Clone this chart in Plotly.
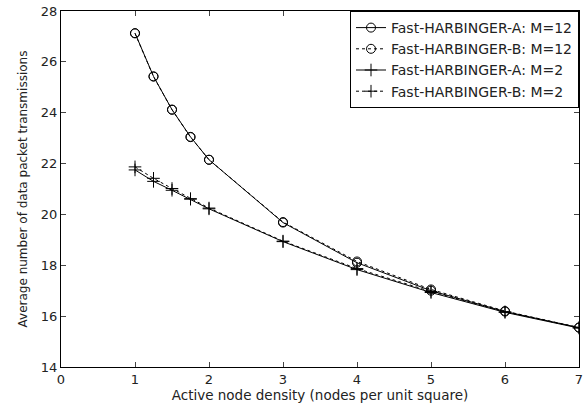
import plotly.graph_objects as go

density = [1, 1.25, 1.5, 1.75, 2, 3, 4, 5, 6, 7]
a_m12 = [27.13, 25.43, 24.12, 23.05, 22.15, 19.68, 18.1, 17.0, 16.18, 15.55]
b_m12 = [27.12, 25.42, 24.12, 23.04, 22.15, 19.7, 18.15, 17.05, 16.2, 15.55]
a_m2 = [21.75, 21.3, 20.95, 20.6, 20.22, 18.93, 17.83, 16.93, 16.15, 15.53]
b_m2 = [21.87, 21.42, 21.02, 20.62, 20.25, 18.95, 17.87, 16.97, 16.17, 15.55]

names = ["Fast-HARBINGER-A: M=12", "Fast-HARBINGER-B: M=12",
         "Fast-HARBINGER-A: M=2", "Fast-HARBINGER-B: M=2"]
series = [a_m12, b_m12, a_m2, b_m2]
symbols = ["circle-open", "circle-open", "cross-thin-open", "cross-thin-open"]
dashes = ["solid", "dot", "solid", "dot"]

fig = go.Figure()
for n, s, sym, d in zip(names, series, symbols, dashes):
    fig.add_trace(go.Scatter(
        x=density, y=s, name=n, mode="lines+markers",
        line=dict(color="black", width=1, dash=d),
        marker=dict(symbol=sym, size=9, color="black",
                    line=dict(color="black", width=1)),
    ))

font = "DejaVu Sans, Liberation Sans, Arial, sans-serif"
fig.update_layout(
    width=588, height=407,
    margin=dict(l=61, r=9, t=11, b=40),
    paper_bgcolor="white", plot_bgcolor="white",
    font=dict(family=font, size=13, color="#222"),
    showlegend=True,
    legend=dict(x=1, y=1, xanchor="right", yanchor="top",
                bordercolor="black", borderwidth=1, bgcolor="white",
                font=dict(size=14, family=font), tracegroupgap=0,
                itemwidth=30),
)
fig.update_xaxes(
    range=[0, 7], tickvals=list(range(0, 8)), ticks="inside", ticklen=5,
    showline=True, linecolor="black", linewidth=1, mirror="ticks",
    showgrid=False, zeroline=False, automargin=False,
    tickfont=dict(size=13), ticklabeloverflow="allow",
    title=dict(text="Active node density (nodes per unit square)",
               font=dict(size=13.5), standoff=2),
)
fig.update_yaxes(
    range=[14, 28], tickvals=list(range(14, 29, 2)), ticks="inside", ticklen=5,
    showline=True, linecolor="black", linewidth=1, mirror="ticks",
    showgrid=False, zeroline=False, automargin=False,
    tickfont=dict(size=13), ticklabeloverflow="allow",
    title=dict(text="Average number of data packet transmissions",
               font=dict(size=12), standoff=10),
)
fig.write_html("out.html",
               config={"displayModeBar": False},
               post_script="document.body.style.margin='0';")
